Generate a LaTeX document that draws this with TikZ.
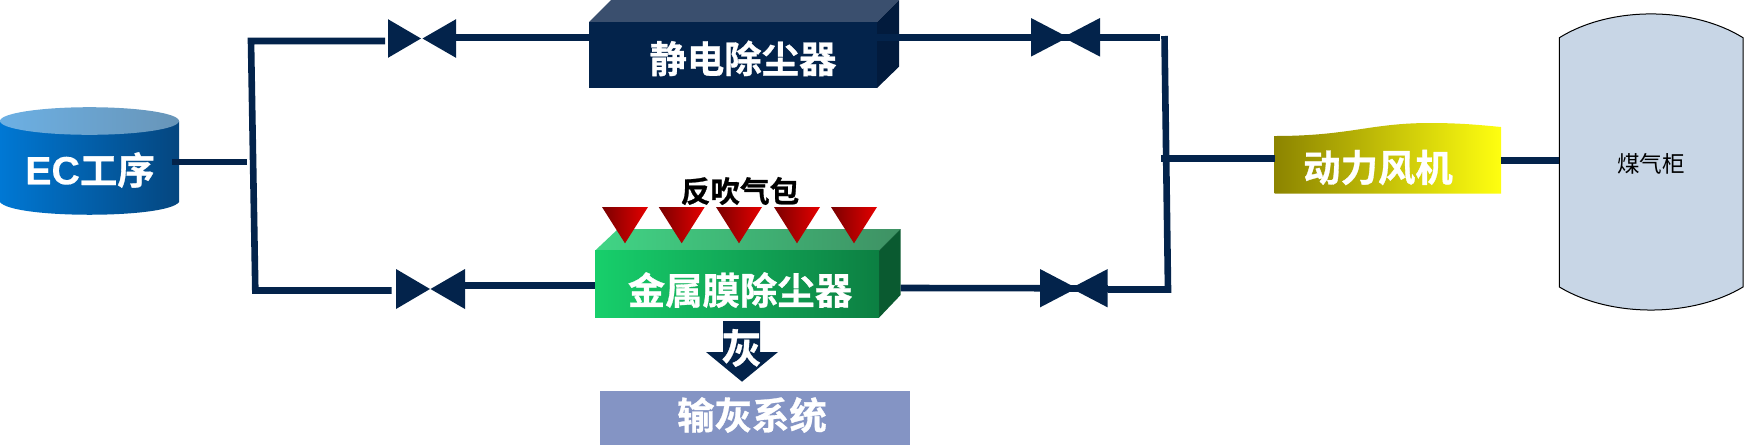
\documentclass[tikz,border=0pt]{standalone}
\usepackage{fontspec}
\setmainfont{Noto Sans CJK SC}[BoldFont={Noto Sans CJK SC Bold},BoldFeatures={FakeBold=0.8}]
\newfontfamily\latinfont{Liberation Sans}[BoldFeatures={FakeBold=0.3}]
\usepackage{xcolor}
\usepackage{tikz}

\definecolor{navy}{HTML}{03234B}
\definecolor{navyTop}{HTML}{3A4F6E}
\definecolor{navySide}{HTML}{021B3D}
\definecolor{ashBlue}{HTML}{8494C4}
\definecolor{holder}{HTML}{C8D6E6}
\definecolor{ecL}{HTML}{0078D4}
\definecolor{ecR}{HTML}{05467F}
\definecolor{ecTopL}{HTML}{6CB0E4}
\definecolor{ecTopR}{HTML}{6895B8}
\definecolor{mbfL}{HTML}{17CF6B}
\definecolor{mbfR}{HTML}{0C7F42}
\definecolor{mbfTopL}{HTML}{40D585}
\definecolor{mbfTopR}{HTML}{3F9164}
\definecolor{mbfSide}{HTML}{0A5A30}
\definecolor{nozzleL}{HTML}{7A0000}
\definecolor{nozzleM}{HTML}{D00000}
\definecolor{nozzleR}{HTML}{E60000}
\definecolor{fanL}{HTML}{8C8400}
\definecolor{fanM}{HTML}{DDDD10}
\definecolor{fanR}{HTML}{FFFF10}

\begin{document}
\begin{tikzpicture}[x=0.5pt, y=-0.5pt]
    \tikzset{pipe/.style={draw=navy, line width=3.3pt, miter limit=10}}
    \tikzset{plain/.style={rectangle, inner sep=0, outer sep=0}}
    \tikzset{lbl/.style={inner sep=0, text=white,
      font=\fontsize{18.7pt}{20pt}\selectfont\bfseries}}
    \useasboundingbox (0, 0) rectangle (1747, 446);

    % EC process
    \shade [left color=ecL, right color=ecR]
      (0, 121) -- (0, 202) .. controls (12, 219) and (167, 219) .. (179, 202)
      -- (179, 121) -- cycle;
    \shade [left color=ecTopL, right color=ecTopR]
      (89.5, 121) ellipse [x radius=89.5, y radius=13.8];
    \path (90, 170) node [lbl] (ecText)
      {{\latinfont\fontsize{19.7pt}{20pt}\selectfont EC}工序};

    % Electrostatic box
    \fill [navyTop] (589, 22) -- (611, 0) -- (899, 0) -- (877, 22) -- cycle;
    \fill [navySide] (877, 22) -- (899, 0) -- (899, 66.7) -- (877, 88) -- cycle;
    \path (733, 55) node [plain, fill=navy, minimum width=144pt,
                          minimum height=33pt] (esp) {};
    \path (743, 58.4) node [lbl] (espText) {静电除尘器};

    % Membrane box
    \shade [left color=mbfTopL, right color=mbfTopR]
      (595, 250.7) -- (618, 229) -- (900.6, 229) -- (879, 250.7) -- cycle;
    \fill [mbfSide] (879, 250.7) -- (900.6, 229) -- (900.6, 295)
      -- (879, 317.7) -- cycle;
    \path (737, 284.2) node [plain, left color=mbfL, right color=mbfR,
                             minimum width=142pt, minimum height=33.5pt] (mbf) {};
    \path (740, 290) node [lbl] (mbfText) {金属膜除尘器};

    % Pulse nozzles
    \foreach \x in {625, 681.7, 739, 797, 854} {
      \shade [left color=nozzleL, middle color=nozzleM, right color=nozzleR]
        ({\x - 23}, 207) -- ({\x + 23}, 207) -- (\x, 243.3) -- cycle;
    }
    \path (740, 191) node [lbl, text=black,
      font=\fontsize{14.8pt}{16pt}\selectfont\bfseries] (tank) {反吹气包};

    % Ash
    \fill [navy] (723, 321) -- (760, 321) -- (760, 352) -- (778, 352)
      -- (742, 381.7) -- (706, 352) -- (723, 352) -- cycle;
    \path (741.5, 348) node [lbl, font=\fontsize{20pt}{22pt}\selectfont\bfseries]
      (ashText) {灰};
    \path (755, 418) node [plain, fill=ashBlue, minimum width=155pt,
                           minimum height=27.2pt] (ash) {};
    \path (752, 415) node [lbl] (ashSys) {输灰系统};

    % Fan
    \shade [left color=fanL, middle color=fanM, right color=fanR]
      (1274.5, 193.7) -- (1274.5, 136) .. controls (1350, 136) and (1370, 123)
      .. (1430, 123) .. controls (1460, 123) and (1480, 125) .. (1501, 127)
      -- (1501, 193.7) -- cycle;
    \path (1378, 167.5) node [lbl] (fanText) {动力风机};

    % Gas holder
    \filldraw [fill=holder, draw=black, line width=0.5pt]
      (1559.4, 37.7) .. controls (1610, 6) and (1692, 6) .. (1743, 37.7)
      -- (1743, 287) .. controls (1692, 317.7) and (1610, 317.7) .. (1559.4, 287)
      -- cycle;
    \path (1651, 164) node [inner sep=0, font=\fontsize{11.3pt}{13pt}\selectfont]
      (gasText) {煤气柜};

    % Valves
    \foreach \v/\lx/\rx/\lt/\rt/\y/\h in {vtl/388/456/421/422.5/38.5/19.3,%
                                          vbl/396/465/430/430.5/289/20,%
                                          vtr/1031/1100/1068/1063/37.3/19.3,%
                                          vbr/1040/1107.7/1076.7/1071/288.2/19.2} {
      \path (\lx, \y) coordinate (\v-l) (\rx, \y) coordinate (\v-r);
      \fill [navy] (\lx, {\y - \h}) -- (\lt, \y) -- (\lx, {\y + \h}) -- cycle;
      \fill [navy] (\rx, {\y - \h}) -- (\rt, \y) -- (\rx, {\y + \h}) -- cycle;
    }

    % Anchors for the pipes
    \path (172, 162) coordinate (ecOut) (247, 162) coordinate (brMid);
    \path (385, 41) coordinate (vtlIn) (391.5, 290.5) coordinate (vblIn);
    \path (456, 37.3) coordinate (vtlOut) (465, 285.5) coordinate (vblOut);
    \path (251, 41) coordinate (brTL) (255.3, 290.5) coordinate (brBL);
    \path (1160, 37.3) coordinate (vtrIn);
    \path (1164.5, 36) coordinate (brTR) (1168, 289.5) coordinate (brBR);
    \path (1161.4, 158.3) coordinate (fanIn) (1274.5, 158.3) coordinate (fanW);
    \path (1501, 160.3) coordinate (fanE) (1559.4, 160.3) coordinate (gasW);
    \path (900.6, 288) coordinate (mbfE);

    % Edges
    \draw [pipe] (ecOut) -- (brMid);
    \draw [pipe] (vtlIn) -- (brTL) -- (brBL) -- (vblIn);
    \draw [pipe] (vtlOut) -- (esp.west |- vtlOut);
    \draw [pipe] (vblOut) -- (mbf.west |- vblOut);
    \draw [pipe] (esp.east |- vtr-l) -- (vtr-l);
    \draw [pipe] (vtr-l) -- (vtr-r);
    \draw [pipe] (vtr-r) -- (vtrIn);
    \draw [pipe] (mbfE) -- (vbr-l);
    \draw [pipe] (vbr-l) -- (vbr-r);
    \draw [pipe] (vbr-r |- brBR) -- (brBR) -- (brTR);
    \draw [pipe] (fanIn) -- (fanW);
    \draw [pipe] (fanE) -- (gasW);
\end{tikzpicture}
\end{document}
